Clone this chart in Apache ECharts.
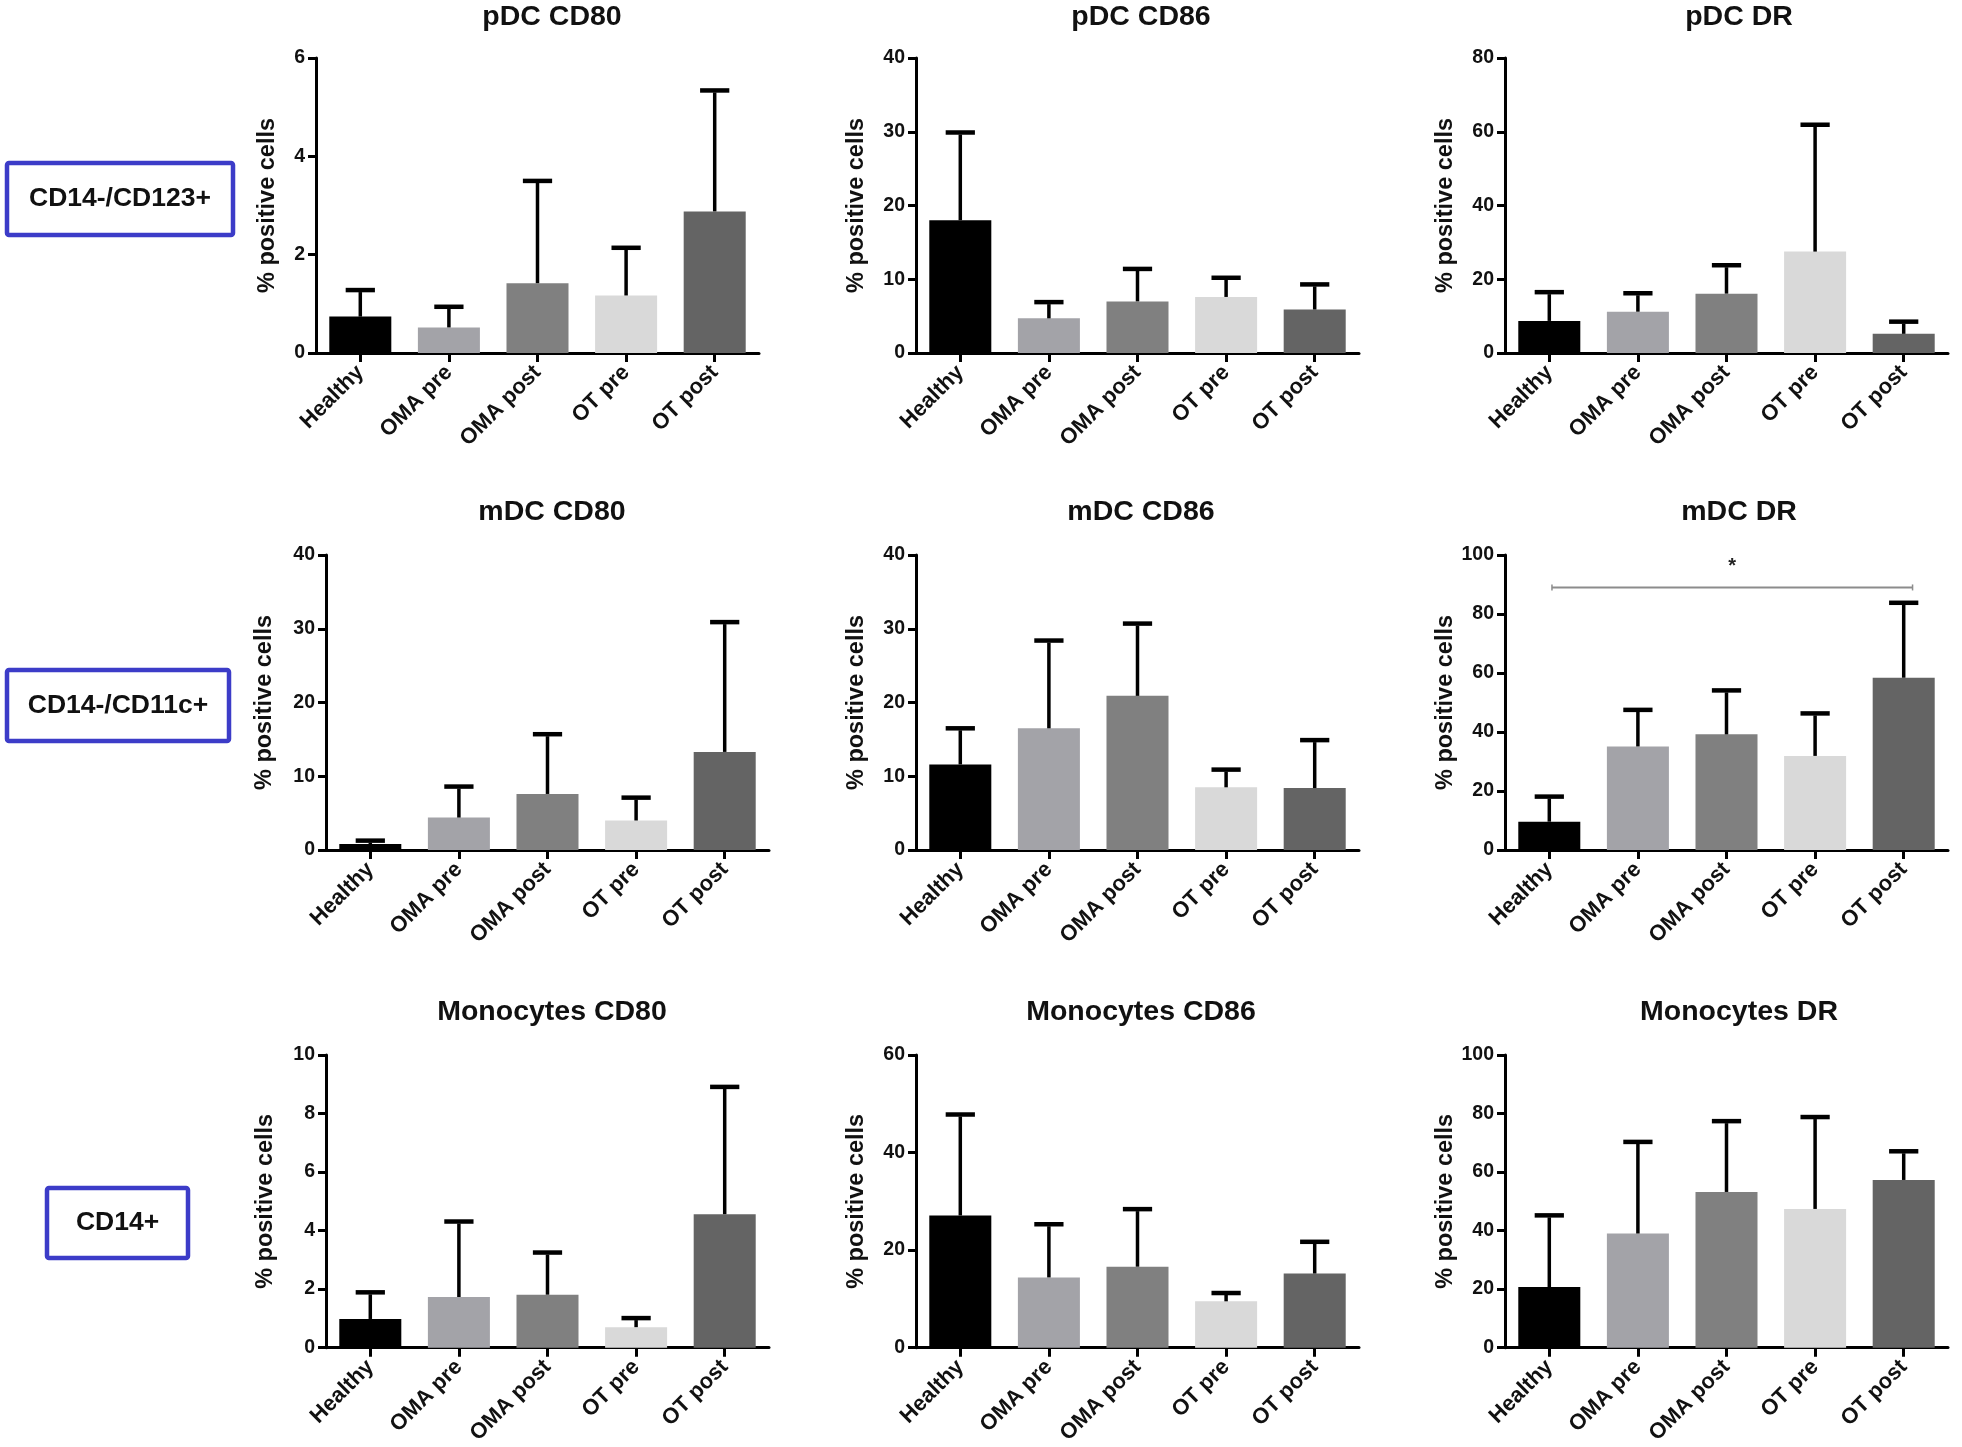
<!DOCTYPE html>
<html>
<head>
<meta charset="utf-8">
<script src="https://cdn.jsdelivr.net/npm/echarts@6/dist/echarts.min.js"></script>
<style>
  html, body { margin: 0; padding: 0; background: #fff; }
  #chart { width: 1962px; height: 1447px; }
</style>
</head>
<body>
<div id="chart"></div>
<script>
// ---------------- DATA ----------------
const categories = ['Healthy', 'OMA pre', 'OMA post', 'OT pre', 'OT post'];
const barColors = ['#000000', '#a3a3a8', '#808080', '#d9d9d9', '#646464'];

const panelTitles = ['pDC CD80', 'pDC CD86', 'pDC DR',
                     'mDC CD80', 'mDC CD86', 'mDC DR',
                     'Monocytes CD80', 'Monocytes CD86', 'Monocytes DR'];
const rowLabels = ['CD14-/CD123+', 'CD14-/CD11c+', 'CD14+'];
const yAxisName = '% positive cells';
const yMax = [6, 40, 80, 40, 40, 100, 10, 60, 100];
const yInterval = [2, 10, 20, 10, 10, 20, 2, 20, 20];

// means and SD (upper error bar length)
const meanPdcCd80 = [0.74, 0.52, 1.42, 1.17, 2.88];
const sdPdcCd80   = [0.54, 0.42, 2.08, 0.97, 2.46];
const meanPdcCd86 = [18.0, 4.7, 7.0, 7.6, 5.9];
const sdPdcCd86   = [11.9, 2.2, 4.4, 2.6, 3.4];
const meanPdcDr   = [8.7, 11.2, 16.1, 27.5, 5.2];
const sdPdcDr     = [7.8, 5.0, 7.7, 34.4, 3.3];
const meanMdcCd80 = [0.8, 4.4, 7.6, 4.0, 13.3];
const sdMdcCd80   = [0.47, 4.2, 8.1, 3.1, 17.6];
const meanMdcCd86 = [11.6, 16.5, 20.9, 8.5, 8.4];
const sdMdcCd86   = [4.9, 11.9, 9.8, 2.4, 6.5];
const meanMdcDr   = [9.6, 35.1, 39.2, 31.9, 58.4];
const sdMdcDr     = [8.5, 12.4, 14.9, 14.4, 25.4];
const meanMonoCd80 = [0.98, 1.73, 1.81, 0.70, 4.56];
const sdMonoCd80   = [0.91, 2.58, 1.44, 0.31, 4.35];
const meanMonoCd86 = [27.1, 14.4, 16.6, 9.5, 15.2];
const sdMonoCd86   = [20.7, 10.9, 11.8, 1.7, 6.5];
const meanMonoDr   = [20.7, 39.0, 53.2, 47.4, 57.3];
const sdMonoDr     = [24.5, 31.3, 24.2, 31.4, 9.8];

// significance bracket (mDC DR panel): Healthy vs OT post
const sigPanel = 5;
const sigFrom = 0, sigTo = 4;
const sigLevel = 89;
const sigStarLevel = 96;
const sigText = '*';

const panelMeans = [meanPdcCd80, meanPdcCd86, meanPdcDr, meanMdcCd80, meanMdcCd86, meanMdcDr, meanMonoCd80, meanMonoCd86, meanMonoDr];
const panelSds = [sdPdcCd80, sdPdcCd86, sdPdcDr, sdMdcCd80, sdMdcCd86, sdMdcDr, sdMonoCd80, sdMonoCd86, sdMonoDr];

// ---------------- LAYOUT ----------------
const FONT = '"Liberation Sans", Arial, sans-serif';
const gridLefts = [[316, 916, 1505], [326, 916, 1505], [326, 916, 1505]];
const gridTops = [58, 555, 1055];
const gridW = 443, gridH = 295;
const titleX = [547, 1136, 1734];
const titleTop = [-2, 493, 993];
const nameGaps = [[36, 47, 47], [49, 47, 47], [48, 47, 47]];
const boxes = [
  { x: 7, y: 163, w: 226, h: 72 },
  { x: 7, y: 670, w: 222, h: 71 },
  { x: 47, y: 1188, w: 141, h: 70 }
];

const grids = [], xAxes = [], yAxes = [], series = [], titles = [];

for (let k = 0; k < 9; k++) {
  const r = Math.floor(k / 3), c = k % 3;
  grids.push({ left: gridLefts[r][c], top: gridTops[r], width: gridW, height: gridH, containLabel: false });
  titles.push({
    text: panelTitles[k], left: titleX[c], top: titleTop[r], textAlign: 'center',
    textStyle: { fontFamily: FONT, fontWeight: 'bold', fontSize: 28.5, color: '#111' }
  });
  xAxes.push({
    type: 'category', gridIndex: k, data: categories, boundaryGap: true,
    axisLine: { lineStyle: { color: '#000', width: 3 } },
    axisTick: { show: true, alignWithLabel: true, length: 9, lineStyle: { color: '#000', width: 3 } },
    axisLabel: { rotate: 45, margin: 16, fontFamily: FONT, fontWeight: 'bold', fontSize: 22, color: '#111', interval: 0 },
    splitLine: { show: false }
  });
  yAxes.push({
    type: 'value', gridIndex: k, min: 0, max: yMax[k], interval: yInterval[k],
    name: yAxisName, nameLocation: 'middle', nameGap: nameGaps[r][c],
    nameTextStyle: { fontFamily: FONT, fontWeight: 'bold', fontSize: 23.5, color: '#111' },
    axisLine: { show: true, lineStyle: { color: '#000', width: 3 } },
    axisTick: { show: true, length: 8, lineStyle: { color: '#000', width: 3 } },
    axisLabel: { margin: 11, fontFamily: FONT, fontWeight: 'bold', fontSize: 19.5, color: '#111' },
    splitLine: { show: false }
  });
  const means = panelMeans[k], sds = panelSds[k];
  series.push({
    type: 'bar', xAxisIndex: k, yAxisIndex: k, barWidth: '70%',
    data: means.map((v, i) => ({ value: v, itemStyle: { color: barColors[i] } })),
    silent: true, z: 2
  });
  series.push({
    type: 'custom', xAxisIndex: k, yAxisIndex: k, z: 3, silent: true,
    data: means.map((m, i) => [i, m, m + sds[i]]),
    renderItem: function (params, api) {
      const base = api.coord([api.value(0), api.value(1)]);
      const top = api.coord([api.value(0), api.value(2)]);
      const band = api.size([1, 0])[0];
      const half = band * 0.165;
      return {
        type: 'group',
        children: [
          { type: 'line', shape: { x1: base[0], y1: base[1], x2: top[0], y2: top[1] + 2 },
            style: { stroke: '#000', lineWidth: 3.5 } },
          { type: 'line', shape: { x1: top[0] - half, y1: top[1], x2: top[0] + half, y2: top[1] },
            style: { stroke: '#000', lineWidth: 4.5 } }
        ]
      };
    }
  });
}

// significance bracket
series.push({
  type: 'custom', xAxisIndex: sigPanel, yAxisIndex: sigPanel, z: 4, silent: true,
  data: [[sigFrom, sigTo, sigLevel, sigStarLevel]],
  renderItem: function (params, api) {
    const a = api.coord([api.value(0), api.value(2)]);
    const b = api.coord([api.value(1), api.value(2)]);
    const band = api.size([1, 0])[0];
    const ax = a[0] + band * 0.03, bx = b[0] + band * 0.1;
    const sy = api.coord([api.value(0), api.value(3)])[1];
    return {
      type: 'group',
      children: [
        { type: 'line', shape: { x1: ax, y1: a[1], x2: bx, y2: b[1] }, style: { stroke: '#8c8c8c', lineWidth: 2 } },
        { type: 'line', shape: { x1: ax, y1: a[1] - 3, x2: ax, y2: a[1] + 3 }, style: { stroke: '#8c8c8c', lineWidth: 1.5 } },
        { type: 'line', shape: { x1: bx, y1: b[1] - 3, x2: bx, y2: b[1] + 3 }, style: { stroke: '#8c8c8c', lineWidth: 1.5 } },
        { type: 'text', style: { x: (ax + bx) / 2, y: sy, text: sigText, textAlign: 'center', textVerticalAlign: 'middle',
          font: 'bold 20px ' + FONT, fill: '#222' } }
      ]
    };
  }
});

// row label boxes
const graphics = [];
boxes.forEach((b, i) => {
  graphics.push({ type: 'rect', shape: { x: b.x, y: b.y, width: b.w, height: b.h, r: 2 },
    style: { fill: '#fff', stroke: '#3c3cc8', lineWidth: 4.5 } });
  graphics.push({ type: 'text', x: b.x + b.w / 2, y: b.y + b.h / 2,
    style: { text: rowLabels[i], textAlign: 'center', textVerticalAlign: 'middle', font: 'bold 26.5px ' + FONT, fill: '#111' } });
});

const chart = echarts.init(document.getElementById('chart'), null, { renderer: 'canvas' });
chart.setOption({
  animation: false,
  backgroundColor: '#fff',
  title: titles,
  grid: grids,
  xAxis: xAxes,
  yAxis: yAxes,
  series: series,
  graphic: graphics
});
</script>
</body>
</html>
